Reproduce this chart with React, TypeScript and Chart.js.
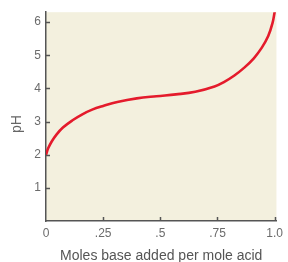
import React, { useEffect, useRef } from "react";
import { Chart, registerables } from "chart.js";

Chart.register(...registerables);

const molesBase = [0, 0.01, 0.025, 0.045, 0.074, 0.116, 0.159, 0.202, 0.25, 0.312, 0.397, 0.483, 0.568, 0.653, 0.737, 0.78, 0.824, 0.866, 0.909, 0.944, 0.972, 0.991, 1.0];
const pHValues = [2.0, 2.2, 2.4, 2.6, 2.82, 3.04, 3.22, 3.36, 3.47, 3.59, 3.7, 3.765, 3.82, 3.9, 4.06, 4.2, 4.39, 4.62, 4.91, 5.23, 5.58, 5.98, 6.3];
const xTicks = [0, 0.25, 0.5, 0.75, 1.0];
const xTickLabels = ["0", ".25", ".5", ".75", "1.0"];
const yTicks = [1, 2, 3, 4, 5, 6];
const xTitle = "Moles base added per mole acid";
const yTitle = "pH";

const FONT = "'Liberation Sans', Arial, sans-serif";
const W = 288;
const H = 267;

const bgPlugin = {
  id: "bgPlugin",
  beforeDraw(chart: any) {
    const { ctx, chartArea } = chart;
    ctx.save();
    ctx.fillStyle = "#f3f0de";
    ctx.fillRect(chartArea.left, chartArea.top, chartArea.right - chartArea.left, chartArea.bottom - chartArea.top);
    ctx.restore();
  },
  afterDraw(chart: any) {
    const { ctx, chartArea, scales } = chart;
    ctx.save();
    ctx.strokeStyle = "#555";
    ctx.lineWidth = 1.5;
    ctx.beginPath();
    for (const v of yTicks) {
      const y = Math.round(scales.y.getPixelForValue(v)) + 0.5;
      ctx.moveTo(chartArea.left, y);
      ctx.lineTo(chartArea.left + 4, y);
    }
    for (const v of xTicks) {
      if (v === 0) continue;
      const x = Math.round(scales.x.getPixelForValue(v)) + 0.5;
      ctx.moveTo(x, chartArea.bottom);
      ctx.lineTo(x, chartArea.bottom - 4);
    }
    ctx.stroke();
    ctx.fillStyle = "#666";
    ctx.font = `14px ${FONT}`;
    ctx.textAlign = "center";
    ctx.textBaseline = "middle";
    ctx.translate(17, 124);
    ctx.rotate(-Math.PI / 2);
    ctx.fillText(yTitle, 0, 0);
    ctx.restore();
  },
};

export default function App() {
  const ref = useRef<HTMLCanvasElement>(null);
  useEffect(() => {
    if (!ref.current) return;
    const chart = new Chart(ref.current, {
      type: "line",
      data: {
        datasets: [
          {
            data: molesBase.map((x, i) => ({ x, y: pHValues[i] })),
            borderColor: "#e41b2c",
            borderWidth: 2.6,
            pointRadius: 0,
            fill: false,
            tension: 0.4,
            borderCapStyle: "round",
            borderJoinStyle: "round",
          },
        ],
      },
      options: {
        animation: false,
        responsive: false,
        maintainAspectRatio: false,
        layout: { padding: { top: 11, right: 4, left: 0, bottom: 0 } },
        plugins: { legend: { display: false }, tooltip: { enabled: false } },
        scales: {
          x: {
            type: "linear",
            min: 0,
            max: 1.008,
            afterBuildTicks: (scale: any) => {
              scale.ticks = xTicks.map((v) => ({ value: v }));
            },
            afterFit: (scale: any) => {
              scale.height = H - 221;
            },
            grid: { display: false, drawTicks: false },
            border: { display: true, color: "#555", width: 1.5 },
            ticks: {
              padding: 5,
              color: "#6b6b6b",
              font: { family: FONT, size: 12 },
              maxRotation: 0,
              autoSkip: false,
              callback: (v: any) => {
                const i = xTicks.indexOf(Number(v));
                return i >= 0 ? xTickLabels[i] : "";
              },
            },
            title: {
              display: true,
              text: xTitle,
              color: "#555",
              font: { family: FONT, size: 14 },
              padding: { top: 0, bottom: 2 },
            },
          },
          y: {
            type: "linear",
            min: 0,
            max: 6.3,
            afterBuildTicks: (scale: any) => {
              scale.ticks = yTicks.map((v) => ({ value: v }));
            },
            afterFit: (scale: any) => {
              scale.width = 46;
            },
            grid: { display: false, drawTicks: false },
            border: { display: true, color: "#555", width: 1.5 },
            ticks: {
              padding: 5,
              color: "#6b6b6b",
              font: { family: FONT, size: 12 },
              autoSkip: false,
            },
          },
        },
      },
      plugins: [bgPlugin],
    } as any);
    return () => chart.destroy();
  }, []);
  return (
    <div style={{ position: "fixed", left: 0, top: 0, width: W, height: 262, overflow: "hidden", background: "#fff" }}>
      <canvas ref={ref} width={W} height={H} style={{ width: W, height: H, display: "block" }} />
    </div>
  );
}
